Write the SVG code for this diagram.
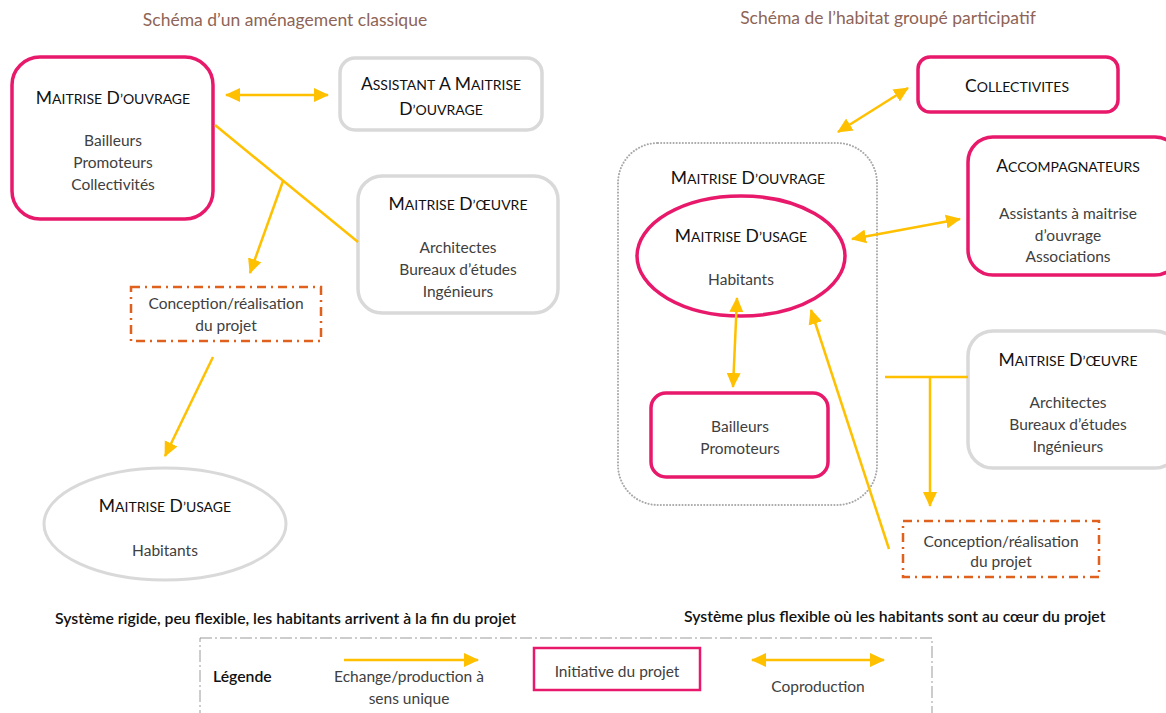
<svg xmlns="http://www.w3.org/2000/svg" width="1166" height="713" viewBox="0 0 1166 713">
<defs>
<marker id="ah" markerUnits="userSpaceOnUse" markerWidth="16" markerHeight="16" refX="14" refY="8" orient="auto-start-reverse" viewBox="0 0 16 16">
<path d="M0,1 L15,8 L0,15 z" fill="#FFC000"/>
</marker>
<style>
text{font-family:Lato,"Open Sans","Noto Sans",sans-serif;}
.title{font-size:17.5px;fill:#8E6456;text-anchor:middle;}
.h{font-size:17.5px;fill:#111;text-anchor:middle;}
.sc{font-size:14px;}
.t{font-size:15.5px;fill:#404040;text-anchor:middle;}
.sub{font-size:15.8px;fill:#111;font-weight:600;}
.pink{fill:#fff;stroke:#E8196B;stroke-width:3.5;}
.gray{fill:#fff;stroke:#D9D9D9;stroke-width:3.5;}
.orange{fill:none;stroke:#E0601E;stroke-width:2.5;stroke-dasharray:9 5 2 5;}
.dots{fill:none;stroke:#A8A8A8;stroke-width:2;stroke-dasharray:0.1 3;stroke-linecap:round;}
.leg{fill:none;stroke:#9A9A9A;stroke-width:1;stroke-dasharray:12 3 2 3;}
.c{fill:none;stroke:#FFC000;stroke-width:2.5;}
</style>
</defs>

<text class="title" x="285" y="26">Schéma d’un aménagement classique</text>
<text class="title" x="888" y="24">Schéma de l’habitat groupé participatif</text>

<!-- Left side -->
<g id="mo-left">
<rect class="pink" x="12" y="57" width="201" height="162" rx="28"/>
<text class="h" x="113" y="104">M<tspan class="sc">AITRISE</tspan> D<tspan class="sc">’OUVRAGE</tspan></text>
<text class="t" x="113" y="146">Bailleurs</text>
<text class="t" x="113" y="168">Promoteurs</text>
<text class="t" x="113" y="190">Collectivités</text>
</g>
<g id="amo-left">
<rect class="gray" x="340" y="58" width="202" height="72" rx="15"/>
<text class="h" x="441" y="90">A<tspan class="sc">SSISTANT</tspan> A M<tspan class="sc">AITRISE</tspan></text>
<text class="h" x="441" y="115">D<tspan class="sc">’OUVRAGE</tspan></text>
</g>
<g id="moe-left">
<rect class="gray" x="358" y="176" width="200" height="137" rx="24"/>
<text class="h" x="458" y="210">M<tspan class="sc">AITRISE</tspan> D<tspan class="sc">’ŒUVRE</tspan></text>
<text class="t" x="458" y="253">Architectes</text>
<text class="t" x="458" y="275">Bureaux d’études</text>
<text class="t" x="458" y="297">Ingénieurs</text>
</g>
<g id="conception-left">
<rect class="orange" x="131" y="287" width="190" height="54"/>
<text class="t" x="226" y="309">Conception/réalisation</text>
<text class="t" x="226" y="331">du projet</text>
</g>
<g id="mu-left">
<ellipse cx="165" cy="524" rx="121" ry="56" fill="#fff" stroke="#D9D9D9" stroke-width="3"/>
<text class="h" x="165" y="512">M<tspan class="sc">AITRISE</tspan> D<tspan class="sc">’USAGE</tspan></text>
<text class="t" x="165" y="556">Habitants</text>
</g>

<!-- Right side -->
<g id="mo-right">
<rect class="dots" x="618" y="143" width="259" height="362" rx="40"/>
<text class="h" x="748" y="184">M<tspan class="sc">AITRISE</tspan> D<tspan class="sc">’OUVRAGE</tspan></text>
</g>
<g id="mu-right">
<ellipse class="pink" cx="741" cy="256" rx="104" ry="60"/>
<text class="h" x="741" y="242">M<tspan class="sc">AITRISE</tspan> D<tspan class="sc">’USAGE</tspan></text>
<text class="t" x="741" y="285">Habitants</text>
</g>
<g id="bailleurs-right">
<rect class="pink" x="651" y="393" width="177" height="84" rx="15"/>
<text class="t" x="740" y="432">Bailleurs</text>
<text class="t" x="740" y="454">Promoteurs</text>
</g>
<g id="collectivites">
<rect class="pink" x="918" y="57" width="200" height="55" rx="12"/>
<text class="h" x="1017" y="92">C<tspan class="sc">OLLECTIVITES</tspan></text>
</g>
<g id="accompagnateurs">
<rect class="pink" x="968" y="137" width="212" height="138" rx="25"/>
<text class="h" x="1068" y="172">A<tspan class="sc">CCOMPAGNATEURS</tspan></text>
<text class="t" x="1068" y="219">Assistants à maitrise</text>
<text class="t" x="1068" y="241">d’ouvrage</text>
<text class="t" x="1068" y="262">Associations</text>
</g>
<g id="moe-right">
<rect class="gray" x="968" y="331" width="212" height="137" rx="25"/>
<text class="h" x="1068" y="366">M<tspan class="sc">AITRISE</tspan> D<tspan class="sc">’ŒUVRE</tspan></text>
<text class="t" x="1068" y="408">Architectes</text>
<text class="t" x="1068" y="430">Bureaux d’études</text>
<text class="t" x="1068" y="452">Ingénieurs</text>
</g>
<g id="conception-right">
<rect class="orange" x="903" y="521" width="196" height="56"/>
<text class="t" x="1001" y="547">Conception/réalisation</text>
<text class="t" x="1001" y="567">du projet</text>
</g>

<!-- Connectors -->
<g id="connectors">
<line class="c" x1="226" y1="95" x2="328" y2="95" marker-start="url(#ah)" marker-end="url(#ah)"/>
<line class="c" x1="215" y1="125" x2="358" y2="242"/>
<line class="c" x1="283" y1="181" x2="250" y2="273" marker-end="url(#ah)"/>
<line class="c" x1="213" y1="357" x2="165" y2="456" marker-end="url(#ah)"/>
<line class="c" x1="838" y1="132" x2="908" y2="88" marker-start="url(#ah)" marker-end="url(#ah)"/>
<line class="c" x1="852" y1="239" x2="960" y2="219" marker-start="url(#ah)" marker-end="url(#ah)"/>
<line class="c" x1="737" y1="298" x2="733" y2="387" marker-start="url(#ah)" marker-end="url(#ah)"/>
<line class="c" x1="889" y1="549" x2="811" y2="310" marker-end="url(#ah)"/>
<line class="c" x1="885" y1="377" x2="968" y2="377"/>
<line class="c" x1="930" y1="377" x2="930" y2="506" marker-end="url(#ah)"/>
</g>

<text class="sub" x="55" y="624">Système rigide, peu flexible, les habitants arrivent à la fin du projet</text>
<text class="sub" x="684" y="622">Système plus flexible où les habitants sont au cœur du projet</text>

<!-- Legend -->
<g id="legend">
<rect class="leg" x="200" y="638" width="732" height="90"/>
<text x="213" y="682" style="font-size:15.8px;font-weight:600;fill:#111">Légende</text>
<line class="c" x1="344" y1="660" x2="478" y2="660" marker-end="url(#ah)"/>
<text class="t" x="409" y="682">Echange/production à</text>
<text class="t" x="409" y="704">sens unique</text>
<rect x="534" y="648" width="166" height="42" fill="#fff" stroke="#E8196B" stroke-width="2.5"/>
<text class="t" x="617" y="677">Initiative du projet</text>
<line class="c" x1="752" y1="660" x2="884" y2="660" marker-start="url(#ah)" marker-end="url(#ah)"/>
<text class="t" x="818" y="692">Coproduction</text>
</g>
</svg>
